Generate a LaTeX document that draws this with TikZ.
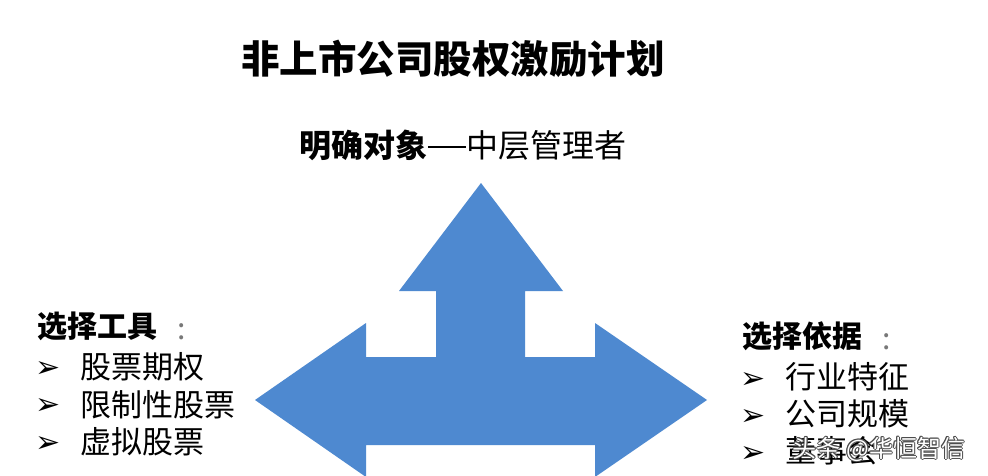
\documentclass[tikz,border=0pt]{standalone}
\usepackage{fontspec}
\setmainfont{Noto Sans CJK SC}
\newfontfamily\symfont{DejaVu Sans}
\definecolor{arrowBlue}{RGB}{78,137,208}
\definecolor{colonGray}{RGB}{120,120,120}
\tikzset{
    headText/.style={anchor=west,inner sep=0pt,font=\fontsize{30}{30}\selectfont\bfseries},
    colonText/.style={inner sep=0pt,text=colonGray,font=\fontsize{30}{30}\selectfont},
    itemText/.style={anchor=west,inner sep=0pt,font=\fontsize{31}{31}\selectfont},
    bulletMark/.style={inner sep=0pt,font=\symfont\fontsize{30}{30}\selectfont},
    markText/.style={inner sep=0pt,font=\fontsize{24}{24}\selectfont}
}
\begin{document}
\begin{tikzpicture}[x=1pt,y=-1pt]
            \useasboundingbox (0,0) rectangle (988,476);
            \clip (0,0) rectangle (988,476);
            \fill[white] (0,0) rectangle (988,476);
            % three-way arrow
            \fill[arrowBlue] (481,183) -- (563,291) -- (525,291) -- (525,357) -- (595,357) -- (595,323)
                -- (707,400) -- (595,477) -- (595,445) -- (366,445) -- (366,477) -- (255,400)
                -- (366,323) -- (366,357) -- (436,357) -- (436,291) -- (399,291) -- cycle;
            \node[inner sep=0pt,font=\fontsize{38.5}{38.5}\selectfont\bfseries] at (453,59)(title){非上市公司股权激励计划};
            \node[inner sep=0pt,font=\fontsize{32}{32}\selectfont] at (463,145)(goal){{\bfseries 明确对象}\rule[.3em]{1.2em}{1.6pt}中层管理者};
            % left list
            \node[headText] at (37,326.5)(toolHead){选择工具};
            \node[colonText] at (182,331.5)(toolColon){:};
            \foreach \t [count=\i] in {股票期权,限制性股票,虚拟股票}{
                \node[bulletMark] at (48,{369+37.5*(\i-1)})(toolBullet\i){➢};
                \node[itemText] at (80,{367+37.5*(\i-1)})(tool\i){\t};
            }
            % right list
            \node[headText] at (742,336.5)(basisHead){选择依据};
            \node[colonText] at (887,341.5)(basisColon){:};
            \foreach \t [count=\i] in {行业特征,公司规模,董事会}{
                \node[bulletMark] at (753,{380+37*(\i-1)})(basisBullet\i){➢};
                \node[itemText] at (785,{377+37*(\i-1)})(basis\i){\t};
            }
            % watermark
            \foreach \dx/\dy in {-1/0,1/0,0/-1,0/1,-.7/-.7,.7/.7,-.7/.7,.7/-.7}
                \node[markText,text=black!70] at ({879+\dx},{449+\dy}){头条 @华恒智信};
            \node[markText,text=white] at (879,449)(mark){头条 @华恒智信};
\end{tikzpicture}
\end{document}
